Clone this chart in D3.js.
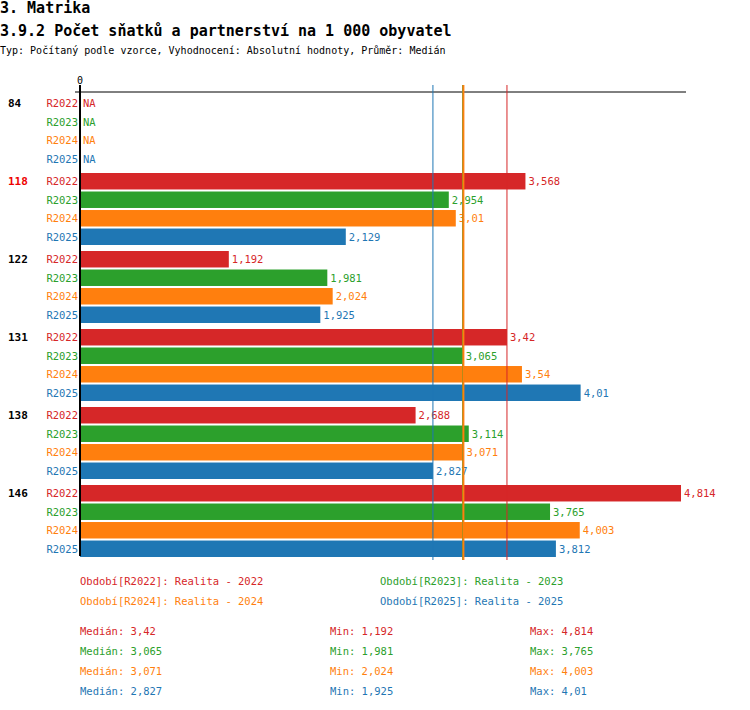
<!DOCTYPE html>
<html><head><meta charset="utf-8">
<script src="https://cdn.jsdelivr.net/npm/d3@7"></script>
<style>body{margin:0;background:#fff}text{font-family:"DejaVu Sans Mono",monospace}</style>
</head><body><svg width="750" height="710"></svg>
<script>
const groups = ["84", "118", "122", "131", "138", "146"];
const series = ["R2022", "R2023", "R2024", "R2025"];
const colors = ["#d62728", "#2ca02c", "#ff7f0e", "#1f77b4"];
const values = {
  R2022: [null, 3.568, 1.192, 3.42, 2.688, 4.814],
  R2023: [null, 2.954, 1.981, 3.065, 3.114, 3.765],
  R2024: [null, 3.01, 2.024, 3.54, 3.071, 4.003],
  R2025: [null, 2.129, 1.925, 4.01, 2.827, 3.812]
};
const legendText = ["Období[R2022]: Realita - 2022", "Období[R2023]: Realita - 2023", "Období[R2024]: Realita - 2024", "Období[R2025]: Realita - 2025"];
const highlight = "118";

const svg = d3.select("svg");
const fmt = v => String(v).replace(".", ",");
const x = d3.scaleLinear().domain([0, 4.814]).range([80, 681]);
const gy = d3.scaleBand().domain(groups).range([92, 560]);
const sy = d3.scaleBand().domain(series).range([0, 72]).paddingInner(0.11);

svg.append("text").attr("x", 0).attr("y", 13).attr("font-size", 15).attr("font-weight", "bold").text("3. Matrika");
svg.append("text").attr("x", 0).attr("y", 36).attr("font-size", 15).attr("font-weight", "bold").text("3.9.2 Počet sňatků a partnerství na 1 000 obyvatel");
svg.append("text").attr("x", 0).attr("y", 54).attr("font-size", 10).text("Typ: Počítaný podle vzorce, Vyhodnocení: Absolutní hodnoty, Průměr: Medián");

// top axis
svg.append("line").attr("x1", 75).attr("x2", 686).attr("y1", 92).attr("y2", 92).attr("stroke", "#000");
svg.append("text").attr("x", x(0)).attr("y", 84).attr("font-size", 10).attr("text-anchor", "middle").text("0");

const g = svg.selectAll("g.grp").data(groups).join("g").attr("class", "grp")
  .attr("transform", d => `translate(0,${gy(d) + 3})`);
g.append("text").attr("x", 8).attr("y", sy("R2022") + sy.bandwidth() / 2 + 4)
  .attr("font-size", 11).attr("font-weight", "bold")
  .attr("fill", d => d === highlight ? "#e00" : "#000").text(d => d);

series.forEach((s, si) => {
  const gi = (d) => groups.indexOf(d);
  g.append("text").attr("x", 78).attr("y", sy(s) + sy.bandwidth() / 2 + 4)
    .attr("font-size", 10.5).attr("text-anchor", "end").attr("fill", colors[si]).text(s);
  g.filter(d => values[s][gi(d)] != null).append("rect")
    .attr("x", x(0)).attr("y", sy(s)).attr("height", sy.bandwidth())
    .attr("width", d => x(values[s][gi(d)]) - x(0)).attr("fill", colors[si]);
  g.append("text").attr("y", sy(s) + sy.bandwidth() / 2 + 4).attr("font-size", 10.5).attr("fill", colors[si])
    .attr("x", d => values[s][gi(d)] == null ? 83 : x(values[s][gi(d)]) + 3)
    .text(d => values[s][gi(d)] == null ? "NA" : fmt(values[s][gi(d)]));
});

// stats and median lines
const stats = series.map(s => {
  const v = values[s].filter(d => d != null);
  return { med: d3.median(v), min: d3.min(v), max: d3.max(v) };
});
[3, 1, 2, 0].forEach(i => {
  svg.append("line").attr("x1", x(stats[i].med)).attr("x2", x(stats[i].med)).attr("y1", 85).attr("y2", 560)
    .attr("stroke", colors[i]).attr("stroke-width", i === 2 ? 2 : 1);
});
svg.append("line").attr("x1", x(0)).attr("x2", x(0)).attr("y1", 85).attr("y2", 556).attr("stroke", "#000").attr("stroke-width", 2);

legendText.forEach((t, i) => {
  svg.append("text").attr("x", i % 2 ? 380 : 80).attr("y", 585 + Math.floor(i / 2) * 20)
    .attr("font-size", 10.5).attr("fill", colors[i]).text(t);
});
stats.forEach((st, i) => {
  const yy = 635 + i * 20;
  svg.append("text").attr("x", 80).attr("y", yy).attr("font-size", 10.5).attr("fill", colors[i]).text("Medián: " + fmt(st.med));
  svg.append("text").attr("x", 330).attr("y", yy).attr("font-size", 10.5).attr("fill", colors[i]).text("Min: " + fmt(st.min));
  svg.append("text").attr("x", 530).attr("y", yy).attr("font-size", 10.5).attr("fill", colors[i]).text("Max: " + fmt(st.max));
});
</script></body></html>
